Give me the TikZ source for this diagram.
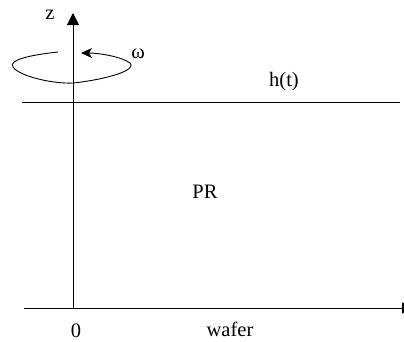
\documentclass[tikz,border=0pt]{standalone}
\usepackage{fontspec}
\setmainfont{Liberation Serif}
\usetikzlibrary{arrows.meta}
\begin{document}
\begin{tikzpicture}[x=1pt,y=-1pt,
  axis/.style={line width=0.9pt},
  lbl/.style={inner sep=0pt,font=\fontsize{20.5}{22}\selectfont}]
\useasboundingbox (0,0) rectangle (404,341);
\clip (0,0) rectangle (404,341);
\fill[white] (0,0) rectangle (404,341);
\coordinate (o) at (73,308);
\coordinate (ztop) at (73,13);
\coordinate (xl) at (24,308);
\coordinate (xr) at (414,308);
\coordinate (hl) at (22,102);
\coordinate (hr) at (400,102);
\coordinate (ws) at (58,52);
\coordinate (we) at (81,53);
\draw[axis,-{Triangle[length=12pt,width=12pt]}] (o) -- (ztop);
\draw[axis,-{Triangle[length=12pt,width=11pt]}] (xl) -- (xr);
\draw[axis] (hl) -- (hr);
\draw[axis,-{Stealth[length=11pt,width=10pt,inset=3pt]}] (ws)
  .. controls (30,55) and (8,60) .. (13,67)
  .. controls (20,77) and (55,84) .. (73,83)
  .. controls (95,81) and (138,72) .. (130,63)
  .. controls (122,57) and (100,53) .. (we);
\node[lbl] (z) at (50,15) {z};
\node[lbl] (w) at (138,54) {ω};
\node[lbl] (h) at (284,82) {h(t)};
\node[lbl] (pr) at (205,192) {PR};
\node[lbl] (zero) at (76,331) {0};
\node[lbl] (wafer) at (230,329) {wafer};
\end{tikzpicture}
\end{document}
